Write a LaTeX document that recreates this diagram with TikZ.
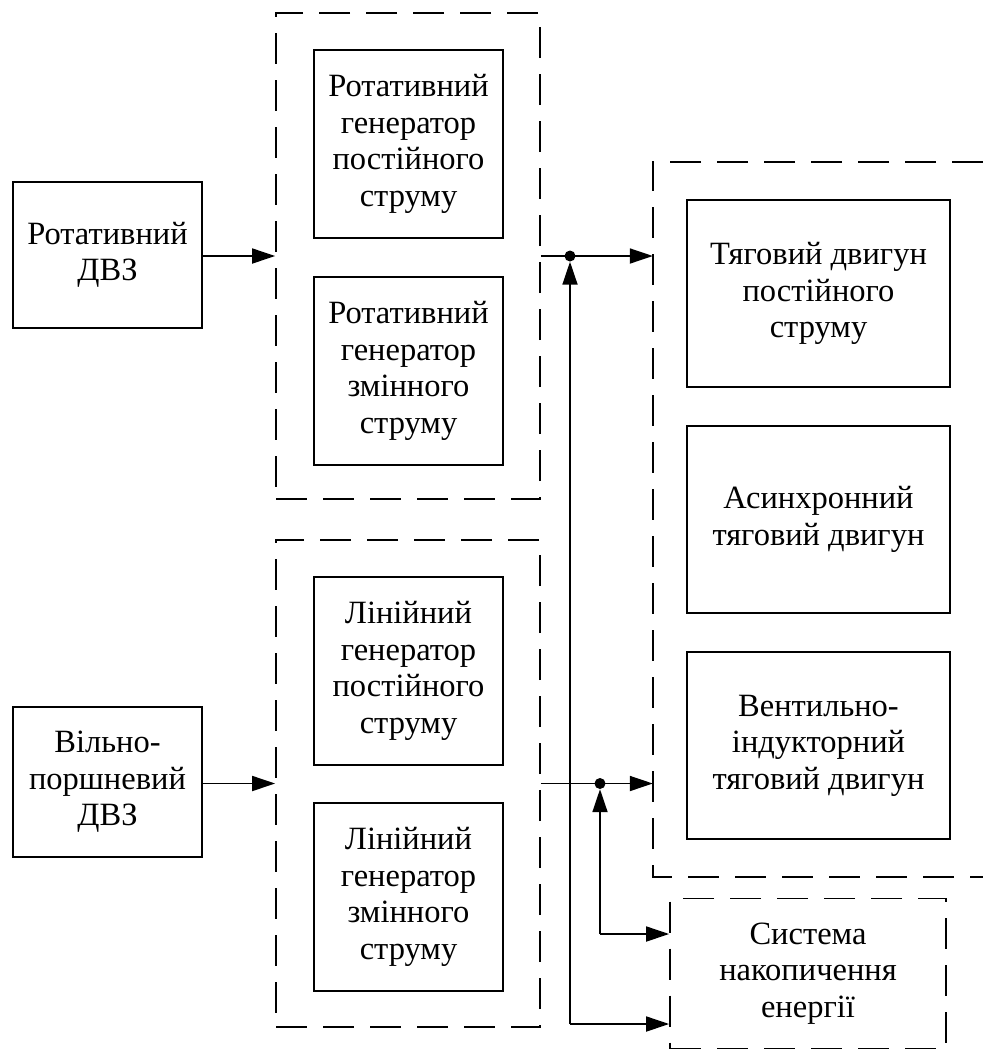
\documentclass[tikz,border=0pt]{standalone}
\usepackage{fontspec}
\setmainfont{Liberation Serif}
\usetikzlibrary{arrows.meta}
\begin{document}
\begin{tikzpicture}[x=1pt,y=-1pt,
  lw/.style={line width=1.8pt},
  box/.style={draw,lw,align=center,inner sep=0pt,font=\fontsize{32.5}{36.5}\selectfont},
  grp/.style={draw,lw,dash pattern=on 31pt off 16pt,inner sep=0pt},
  arr/.style={lw,-{Triangle[length=23pt,width=15pt]}},
  dot/.style={circle,fill,inner sep=0pt,minimum size=11pt}
]
\useasboundingbox (0,0) rectangle (983,1050);
% engines
\node[box,minimum width=189,minimum height=146] (dvz1) at (107.5,255) {Ротативний\\ДВЗ};
\node[box,minimum width=189,minimum height=150] (dvz2) at (107.5,782) {Вільно-\\поршневий\\ДВЗ};
% generator groups
\node[grp,minimum width=264,minimum height=486] (g1) at (408,256) {};
\node[grp,minimum width=264,minimum height=487] (g2) at (408,783.5) {};
\node[box,minimum width=189,minimum height=188] (r1) at (408.5,144) {Ротативний\\генератор\\постійного\\струму};
\node[box,minimum width=189,minimum height=188] (r2) at (408.5,371) {Ротативний\\генератор\\змінного\\струму};
\node[box,minimum width=189,minimum height=188] (l1) at (408.5,671) {Лінійний\\генератор\\постійного\\струму};
\node[box,minimum width=189,minimum height=188] (l2) at (408.5,897) {Лінійний\\генератор\\змінного\\струму};
% motors group (open at right)
\node[minimum width=330,minimum height=715,inner sep=0pt] (mg) at (818,519.5) {};
\draw[lw,dash pattern=on 31pt off 16pt] (mg.north east) -- (mg.north west) -- (mg.south west) -- (mg.south east);
\node[box,minimum width=263,minimum height=187] (m1) at (818.5,293.5) {Тяговий двигун\\постійного\\струму};
\node[box,minimum width=263,minimum height=187] (m2) at (818.5,519.5) {Асинхронний\\тяговий двигун};
\node[box,minimum width=263,minimum height=187] (m3) at (818.5,745.5) {Вентильно-\\індукторний\\тяговий двигун};
% storage
\node[box,dash pattern=on 31pt off 16pt,minimum width=276,minimum height=150] (st) at (808,973.5) {Система\\накопичення\\енергії};
% junctions
\node[dot] (j1) at (570,256) {};
\node[dot] (j2) at (600,783.5) {};
\coordinate (c1) at (570,1024);
\coordinate (c2) at (600,934);
% connectors
\draw[arr] (dvz1.east |- g1.west) -- (g1.west);
\draw[arr] (dvz2.east |- g2.west) -- (g2.west);
\draw[arr] (g1.east) -- (mg.west |- g1.east);
\draw[arr] (g2.east) -- (mg.west |- g2.east);
\draw[arr] (c1) -- (j1.south);
\draw[arr] (c1) -- (st.west |- c1);
\draw[arr] (c2) -- (j2.south);
\draw[arr] (c2) -- (st.west |- c2);
\end{tikzpicture}
\end{document}
